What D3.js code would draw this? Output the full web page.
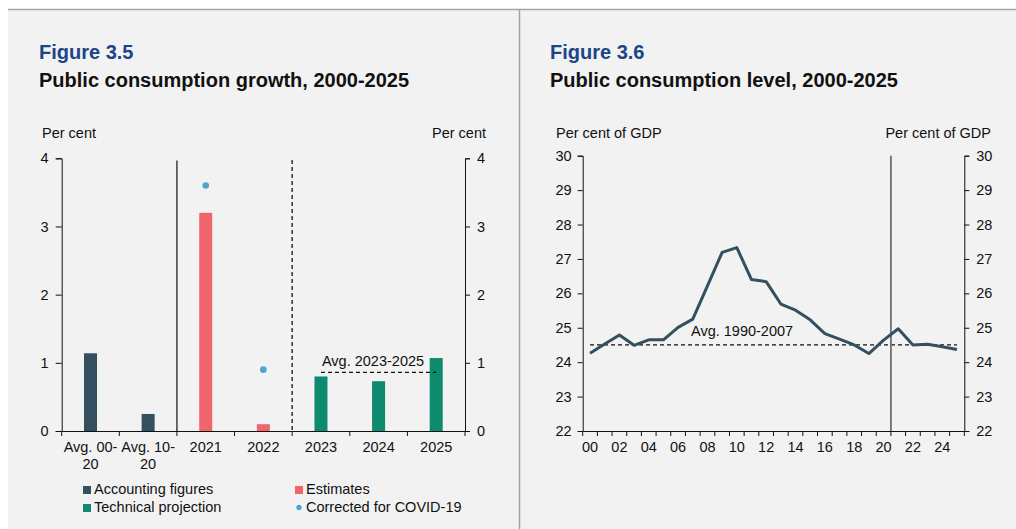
<!DOCTYPE html>
<html>
<head>
<meta charset="utf-8">
<script src="https://cdn.jsdelivr.net/npm/d3@7"></script>
<style>
  html, body { margin: 0; padding: 0; background: #ffffff; }
  svg { display: block; font-family: "Liberation Sans", Arial, sans-serif; }
  .tick text { font-size: 14.5px; fill: #111; }
  .domain, .tick line { stroke: #111; }
</style>
</head>
<body>
<svg id="chart" width="1016" height="529"></svg>
<script>
// ---- Figure 3.5: public consumption growth ----
const growthCategories = ["Avg. 00-20", "Avg. 10-20", "2021", "2022", "2023", "2024", "2025"];
const growthValues = [1.14, 0.25, 3.20, 0.10, 0.80, 0.73, 1.07];
const growthSeries = ["Accounting figures", "Accounting figures", "Estimates", "Estimates",
                      "Technical projection", "Technical projection", "Technical projection"];
const covidCategories = ["2021", "2022"];
const covidValues = [3.60, 0.90];
const projAvgFrom = "2023", projAvgTo = "2025", projAvgValue = 0.86;
const growthTicks = [0, 1, 2, 3, 4];

// ---- Figure 3.6: public consumption level ----
const levelYears = [2000, 2001, 2002, 2003, 2004, 2005, 2006, 2007, 2008, 2009, 2010, 2011, 2012,
                    2013, 2014, 2015, 2016, 2017, 2018, 2019, 2020, 2021, 2022, 2023, 2024, 2025];
const levelValues = [24.26, 24.53, 24.79, 24.49, 24.65, 24.65, 25.01, 25.25, 26.22, 27.19, 27.33, 26.40, 26.34,
                     25.69, 25.51, 25.23, 24.83, 24.67, 24.50, 24.25, 24.64, 24.97, 24.50, 24.52, 24.45, 24.37];
const levelAvgValue = 24.5;
const levelTicks = [22, 23, 24, 25, 26, 27, 28, 29, 30];

const colors = {
  "Accounting figures": "#34505f",
  "Estimates": "#f0646b",
  "Technical projection": "#0e8a6e",
  "Corrected for COVID-19": "#4ea6d0"
};

const svg = d3.select("#chart");

// panel background and frame
svg.append("rect").attr("x", 8).attr("y", 9).attr("width", 1008).attr("height", 520).attr("fill", "#f2f2f2");
svg.append("line").attr("x1", 8).attr("x2", 1016).attr("y1", 9.5).attr("y2", 9.5)
  .attr("stroke", "#a3a3a3").attr("stroke-width", 1.5);
svg.append("line").attr("x1", 519.5).attr("x2", 519.5).attr("y1", 9).attr("y2", 529)
  .attr("stroke", "#a3a3a3").attr("stroke-width", 1.5);

function heading(x, num, title) {
  svg.append("text").attr("x", x).attr("y", 59).text(num)
    .attr("font-size", 20).attr("font-weight", "bold").attr("fill", "#1c4587");
  svg.append("text").attr("x", x).attr("y", 87).text(title)
    .attr("font-size", 20).attr("font-weight", "bold").attr("fill", "#111");
}

// ================= Left chart =================
heading(39, "Figure 3.5", "Public consumption growth, 2000-2025");

const L = { left: 61.7, right: 465, top: 158.3, bottom: 431 };
const xG = d3.scaleBand().domain(growthCategories).range([L.left, L.right]).padding(0);
const yG = d3.scaleLinear().domain([0, 4]).range([L.bottom, L.top]);

svg.append("text").attr("x", 42).attr("y", 138).text("Per cent").attr("font-size", 14.5).attr("fill", "#111");
svg.append("text").attr("x", 486).attr("y", 138).attr("text-anchor", "end").text("Per cent")
  .attr("font-size", 14.5).attr("fill", "#111");

// bars
const barW = 13;
svg.append("g").selectAll("rect").data(growthCategories).join("rect")
  .attr("x", d => xG(d) + xG.bandwidth() / 2 - barW / 2)
  .attr("width", barW)
  .attr("y", (d, i) => yG(growthValues[i]))
  .attr("height", (d, i) => yG(0) - yG(growthValues[i]))
  .attr("fill", (d, i) => colors[growthSeries[i]]);

// COVID-corrected points
svg.append("g").selectAll("circle").data(covidCategories).join("circle")
  .attr("cx", d => xG(d) + xG.bandwidth() / 2)
  .attr("cy", (d, i) => yG(covidValues[i]))
  .attr("r", 3.3)
  .attr("fill", colors["Corrected for COVID-19"]);

// separators between history / estimates / projections
svg.append("line").attr("x1", xG("2021")).attr("x2", xG("2021"))
  .attr("y1", 160.5).attr("y2", L.bottom).attr("stroke", "#111").attr("stroke-width", 1.2);
svg.append("line").attr("x1", xG("2023")).attr("x2", xG("2023"))
  .attr("y1", 160).attr("y2", L.bottom).attr("stroke", "#222").attr("stroke-width", 1.4)
  .attr("stroke-dasharray", "4,3");

// projection average
svg.append("line")
  .attr("x1", xG(projAvgFrom) + xG.bandwidth() / 2).attr("x2", xG(projAvgTo) + xG.bandwidth() / 2)
  .attr("y1", yG(projAvgValue)).attr("y2", yG(projAvgValue))
  .attr("stroke", "#111").attr("stroke-width", 1.2).attr("stroke-dasharray", "4,3");
svg.append("text").attr("x", xG(projAvgFrom) + xG.bandwidth() / 2 + 1).attr("y", yG(projAvgValue) - 6)
  .text("Avg. 2023-2025").attr("font-size", 14.5).attr("fill", "#111");

// axes
svg.append("g").attr("transform", `translate(${L.left},0)`)
  .call(d3.axisLeft(yG).tickValues(growthTicks).tickFormat(d3.format("d")).tickSize(6).tickPadding(7));
svg.append("g").attr("transform", `translate(${L.right},0)`)
  .call(d3.axisRight(yG).tickValues(growthTicks).tickFormat(d3.format("d")).tickSize(5).tickPadding(7));
const gxG = svg.append("g").attr("transform", `translate(0,${L.bottom})`)
  .call(d3.axisBottom(xG).tickSize(0).tickPadding(11));
gxG.selectAll(".tick text").each(function (d) {
  const t = d3.select(this);
  if (d.startsWith("Avg.")) {
    const cut = d.lastIndexOf("-") + 1;
    t.text(null);
    t.append("tspan").attr("x", 0).attr("dy", "0.71em").text(d.slice(0, cut));
    t.append("tspan").attr("x", 0).attr("dy", "17").text(d.slice(cut));
    t.attr("dy", null);
  }
});
// category boundary ticks
gxG.append("g").selectAll("line").data(growthCategories.concat(["end"])).join("line")
  .attr("x1", (d, i) => L.left + i * xG.bandwidth()).attr("x2", (d, i) => L.left + i * xG.bandwidth())
  .attr("y1", 0).attr("y2", 5).attr("stroke", "#111");

// legend
const legendItems = [
  { name: "Accounting figures", x: 83, y: 494, shape: "rect" },
  { name: "Estimates", x: 295, y: 494, shape: "rect" },
  { name: "Technical projection", x: 83, y: 512, shape: "rect" },
  { name: "Corrected for COVID-19", x: 295, y: 512, shape: "dot" }
];
const lg = svg.append("g").selectAll("g").data(legendItems).join("g");
lg.each(function (d) {
  const g = d3.select(this);
  if (d.shape === "rect") {
    g.append("rect").attr("x", d.x).attr("y", d.y - 8).attr("width", 8).attr("height", 8).attr("fill", colors[d.name]);
  } else {
    g.append("circle").attr("cx", d.x + 4).attr("cy", d.y - 4.5).attr("r", 2.7).attr("fill", colors[d.name]);
  }
  g.append("text").attr("x", d.x + 11).attr("y", d.y).text(d.name).attr("font-size", 14.5).attr("fill", "#111");
});

// ================= Right chart =================
heading(550, "Figure 3.6", "Public consumption level, 2000-2025");

const R = { left: 582.7, right: 964.3, top: 155.7, bottom: 431 };
const xL = d3.scaleBand().domain(levelYears).range([R.left, R.right]).padding(0);
const yL = d3.scaleLinear().domain([22, 30]).range([R.bottom, R.top]);
const cx = d => xL(d) + xL.bandwidth() / 2;

svg.append("text").attr("x", 556).attr("y", 138).text("Per cent of GDP").attr("font-size", 14.5).attr("fill", "#111");
svg.append("text").attr("x", 991).attr("y", 138).attr("text-anchor", "end").text("Per cent of GDP")
  .attr("font-size", 14.5).attr("fill", "#111");

// 1990-2007 average
svg.append("line")
  .attr("x1", cx(levelYears[0])).attr("x2", cx(levelYears[levelYears.length - 1]))
  .attr("y1", yL(levelAvgValue)).attr("y2", yL(levelAvgValue))
  .attr("stroke", "#111").attr("stroke-width", 1.2).attr("stroke-dasharray", "4,3");
svg.append("text").attr("x", 691).attr("y", yL(levelAvgValue) - 8.5)
  .text("Avg. 1990-2007").attr("font-size", 14.5).attr("fill", "#111");

// divider between outturn and projection
svg.append("line").attr("x1", xL(2021)).attr("x2", xL(2021))
  .attr("y1", R.top).attr("y2", R.bottom).attr("stroke", "#6f6f6f").attr("stroke-width", 1.8);

// level series
svg.append("path")
  .datum(levelYears.map((y, i) => [y, levelValues[i]]))
  .attr("fill", "none").attr("stroke", "#34505f").attr("stroke-width", 3).attr("stroke-linejoin", "round")
  .attr("d", d3.line().x(d => cx(d[0])).y(d => yL(d[1])));

// axes
svg.append("g").attr("transform", `translate(${R.left},0)`)
  .call(d3.axisLeft(yL).tickValues(levelTicks).tickFormat(d3.format("d")).tickSize(5).tickPadding(6));
svg.append("g").attr("transform", `translate(${R.right},0)`)
  .call(d3.axisRight(yL).tickValues(levelTicks).tickFormat(d3.format("d")).tickSize(5).tickPadding(7));
const gxL = svg.append("g").attr("transform", `translate(0,${R.bottom})`)
  .call(d3.axisBottom(xL).tickSize(0).tickPadding(11)
    .tickFormat(d => (d % 2 === 0 ? String(d % 100).padStart(2, "0") : "")));
gxL.append("g").selectAll("line").data(levelYears.concat(["end"])).join("line")
  .attr("x1", (d, i) => R.left + i * xL.bandwidth()).attr("x2", (d, i) => R.left + i * xL.bandwidth())
  .attr("y1", 0).attr("y2", 5).attr("stroke", "#111");
</script>
</body>
</html>
